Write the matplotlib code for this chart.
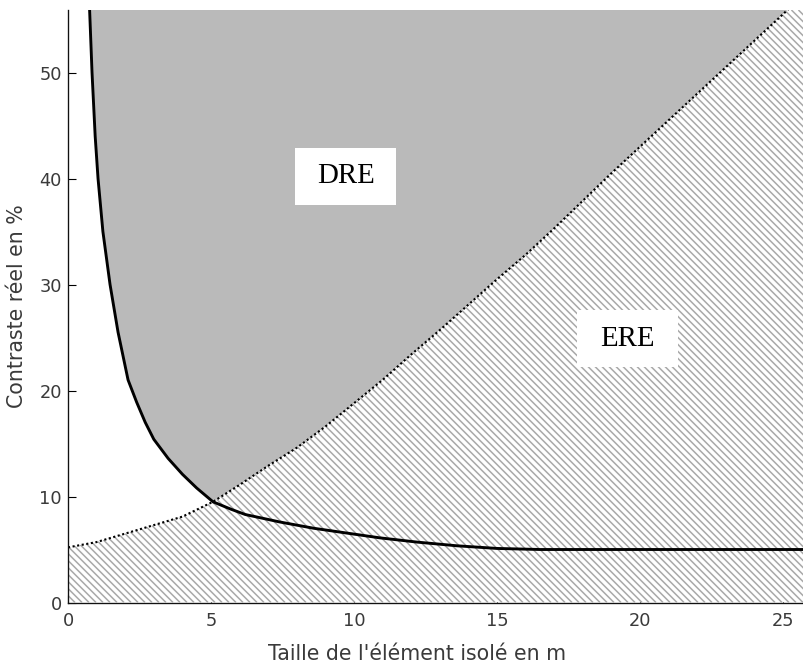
import numpy as np
import matplotlib.pyplot as plt
from matplotlib.patches import Rectangle, Polygon
from matplotlib.collections import LineCollection

# limit curve between ERE and DRE (dotted)
limit_x = [0, 1, 2, 3, 4, 5.07, 6, 7, 8, 9, 10, 11, 12, 13, 14, 15, 16,
           17, 18, 19, 20, 21, 22, 23, 24, 25, 25.7]
limit_y = [5.2, 5.7, 6.5, 7.3, 8.1, 9.5, 11.1, 12.9, 14.6, 16.6, 18.8, 21.0,
           23.4, 25.7, 28.1, 30.5, 32.8, 35.3, 37.9, 40.5, 43.0, 45.5, 48.0,
           50.5, 53.0, 55.5, 57.3]

# detection threshold curve (solid)
seuil_x = [0.74, 0.84, 0.95, 1.05, 1.22, 1.47, 1.75, 2.1, 2.4, 2.7, 3.0, 3.5,
           4.0, 4.5, 5.07, 5.7, 6.2, 7.4, 8.6, 9.75, 10.9, 12.2, 13.6, 15.0,
           16.5, 25.7]
seuil_y = [57.0, 50.0, 44.0, 40.0, 35.0, 30.0, 25.5, 21.0, 18.9, 17.0, 15.4,
           13.6, 12.1, 10.8, 9.5, 8.8, 8.3, 7.6, 7.0, 6.55, 6.1, 5.7, 5.35,
           5.1, 5.0, 5.0]

zones = ['DRE', 'ERE']
zone_x = [9.72, 19.55]
zone_y = [40.2, 24.9]
x_ticks = [0, 5, 10, 15, 20, 25]
y_ticks = [0, 10, 20, 30, 40, 50]

XMAX, YMAX = 25.7, 55.9
PX_X, PX_Y = 28.6, 10.6     # pixels per data unit

plt.rcParams['font.family'] = 'DejaVu Sans'

fig = plt.figure(figsize=(803 / 80, 666 / 80), dpi=80)
ax = fig.add_axes([68 / 803, 63.5 / 666, 735 / 803, 592.5 / 666])
ax.set_xlim(0, XMAX)
ax.set_ylim(0, YMAX)

lx = np.array(limit_x)
ly = np.array(limit_y)
sx = np.array(seuil_x)
sy = np.array(seuil_y)
x_cross = 5.07

# DRE: above both curves
px = np.concatenate([sx[sx <= x_cross], lx[lx > x_cross], [XMAX + 1, sx[0]]])
py = np.concatenate([sy[sx <= x_cross], ly[lx > x_cross], [YMAX + 5, YMAX + 5]])
ax.fill(px, py, facecolor='#bababa', edgecolor='none', zorder=1)

# ERE: white area below the limit curve, with 45 degree hatching
ere = Polygon(np.column_stack([np.r_[lx, lx[-1], 0], np.r_[ly, 0, 0]]),
              closed=True, facecolor='white', edgecolor='none', zorder=1)
ax.add_patch(ere)
k = PX_X / PX_Y
step = 7.0 / PX_X
x0 = np.arange(0, XMAX + YMAX / k + step, step)
segs = [[(a - YMAX / k, YMAX), (a, 0)] for a in x0]
hatch = LineCollection(segs, colors='#aaaaaa', linewidths=1.4, zorder=1.5)
ax.add_collection(hatch)
hatch.set_clip_path(ere)

ax.plot(lx, ly, color='black', linestyle=(0, (1, 1.2)), linewidth=1.9,
        zorder=3)
ax.plot(sx, sy, color='black', linewidth=2.6, zorder=4)

# zone labels in white boxes
w, h = 101 / PX_X, 57 / PX_Y
for name, xc, yc in zip(zones, zone_x, zone_y):
    ax.add_patch(Rectangle((xc - w / 2, yc - h / 2), w, h,
                           facecolor='white', edgecolor='none', zorder=5))
    ax.text(xc, yc, name, fontsize=26, family='Liberation Serif',
            ha='center', va='center', zorder=6)

ax.set_xticks(x_ticks)
ax.set_yticks(y_ticks)
ax.set_axisbelow(True)
ax.tick_params(direction='in', length=7, width=1, labelsize=16,
               labelcolor='#3a3a3a')
ax.tick_params(axis='x', pad=9)
ax.tick_params(axis='y', pad=5.4)
for s in ['top', 'right']:
    ax.spines[s].set_visible(False)
for s in ['left', 'bottom']:
    ax.spines[s].set_linewidth(1.2)
    ax.spines[s].set_color('#111111')
    ax.spines[s].set_zorder(7)

ax.set_xlabel("Taille de l'élément isolé en m", fontsize=18.5,
              color='#3a3a3a')
ax.set_ylabel('Contraste réel en %', fontsize=18.5, color='#3a3a3a')
ax.xaxis.set_label_coords(0.475, -0.070)
ax.yaxis.set_label_coords(-0.0558, 0.5)

fig.savefig('out.png', dpi=80)
